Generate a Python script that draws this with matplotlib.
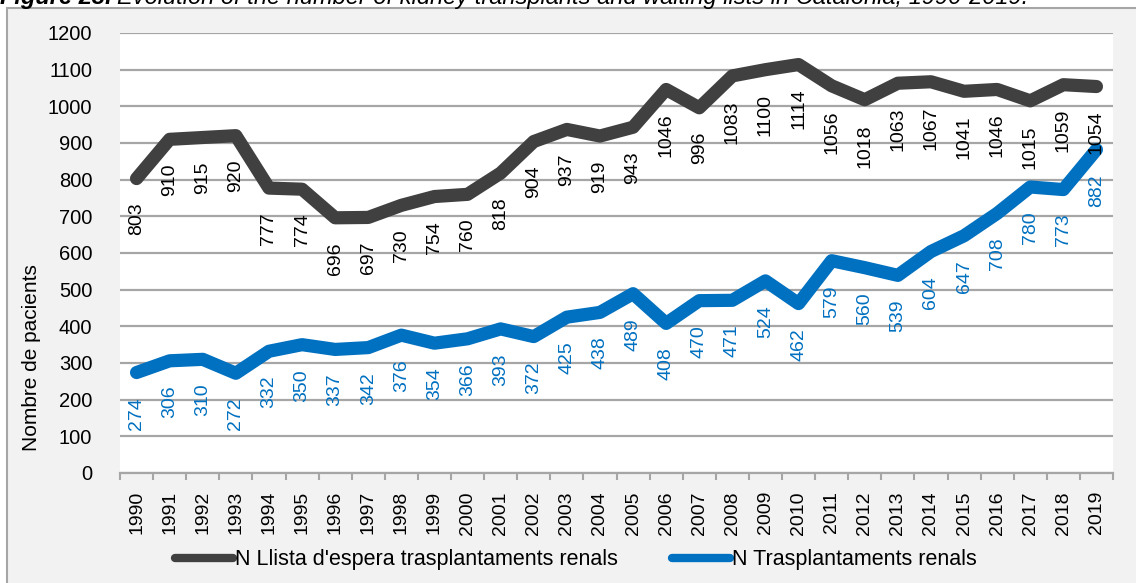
import numpy as np
import matplotlib
matplotlib.use("Agg")
import matplotlib.pyplot as plt
from matplotlib.patches import Rectangle
from matplotlib.lines import Line2D

plt.rcParams['font.family'] = ['Liberation Sans', 'DejaVu Sans']

# data
years = [str(y) for y in range(1990, 2020)]
llista_espera = [803, 910, 915, 920, 777, 774, 696, 697, 730, 754,
                 760, 818, 904, 937, 919, 943, 1046, 996, 1083, 1100,
                 1114, 1056, 1018, 1063, 1067, 1041, 1046, 1015, 1059, 1054]
trasplantaments = [274, 306, 310, 272, 332, 350, 337, 342, 376, 354,
                   366, 393, 372, 425, 438, 489, 408, 470, 471, 524,
                   462, 579, 560, 539, 604, 647, 708, 780, 773, 882]
label_espera = "N Llista d'espera trasplantaments renals"
label_trasp = "N Trasplantaments renals"

dark = '#404040'
blue = '#0070C0'
grid_col = '#a6a6a6'

W, H = 1136, 583
fig = plt.figure(figsize=(W / 100, H / 100), dpi=100, facecolor='white')

# grey chart frame (right/bottom edges run off the picture)
fig.patches.append(Rectangle((7 / W, -0.1), 1.2, 1 - 8 / H + 0.1,
                             transform=fig.transFigure, facecolor='#f2f2f2',
                             edgecolor='#a6a6a6', linewidth=1.5, zorder=-1))

ax = fig.add_axes([120 / W, 1 - 473 / H, (1113 - 120) / W, (473 - 33) / H])
ax.set_zorder(2)
ax.set_facecolor('white')
x = np.arange(len(years))

ax.plot(x, llista_espera, color=dark, lw=9.5, solid_capstyle='round',
        solid_joinstyle='round', zorder=3)
ax.plot(x, trasplantaments, color=blue, lw=9.5, solid_capstyle='round',
        solid_joinstyle='round', zorder=3)

for xi, v in zip(x, llista_espera):
    ax.annotate(str(v), (xi, v), xytext=(0, -17.5), textcoords='offset points',
                rotation=90, ha='center', va='top', fontsize=14, color='black',
                zorder=4)
for xi, v in zip(x, trasplantaments):
    ax.annotate(str(v), (xi, v), xytext=(0, -17.5), textcoords='offset points',
                rotation=90, ha='center', va='top', fontsize=14, color=blue,
                zorder=4)

ax.set_xlim(-0.5, len(years) - 0.5)
ax.set_ylim(0, 1200)
ax.set_yticks(np.arange(0, 1201, 100))
ax.tick_params(axis='y', length=0, pad=20, labelsize=14.5)
ax.yaxis.grid(True, color=grid_col, lw=1.6)
ax.set_axisbelow(True)

ax.set_xticks(np.arange(-0.5, len(years), 1), minor=False)
ax.set_xticklabels([])
ax.set_xticks(x, minor=True)
ax.set_xticklabels(years, minor=True, rotation=90, fontsize=14)
ax.tick_params(axis='x', which='major', length=5, color=grid_col, width=1.5)
ax.tick_params(axis='x', which='minor', length=0, pad=13)

for s in ['top', 'right', 'left']:
    ax.spines[s].set_visible(False)
ax.spines['bottom'].set_color(grid_col)
ax.spines['bottom'].set_linewidth(1.6)

fig.text(32 / W, 1 - 358 / H, 'Nombre de pacients', rotation=90,
         ha='center', va='center', fontsize=15)

handles = [Line2D([], [], color=dark, lw=6, solid_capstyle='round'),
           Line2D([], [], color=blue, lw=6, solid_capstyle='round')]
fig.legend(handles, [label_espera, label_trasp], loc='center',
           bbox_to_anchor=(576 / W, 1 - 560 / H), ncol=2, frameon=False,
           fontsize=15.5, handlelength=2.7, handletextpad=0.1,
           columnspacing=2.5)

# caption clipped at the top of the picture
t1 = fig.text(0 / W, 1 - 4 / H, 'Figure 23.', fontsize=17, fontweight='bold',
              style='italic', va='baseline', ha='left')
fig.canvas.draw()
bb = t1.get_window_extent()
fig.text(bb.x1 / W + 5 / W, 1 - 4 / H,
         'Evolution of the number of kidney transplants and waiting lists in Catalonia, 1990-2019.',
         fontsize=17, style='italic', va='baseline', ha='left')

fig.savefig('out.png', dpi=100, facecolor='white')
